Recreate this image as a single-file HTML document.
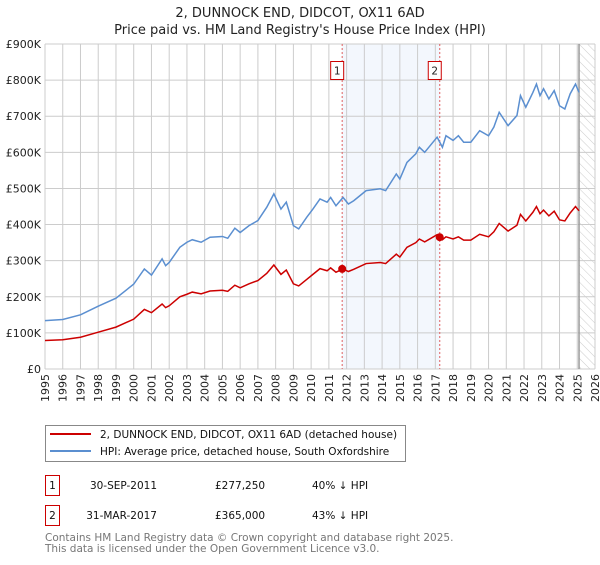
<!DOCTYPE html>
<html><head><meta charset="utf-8"><style>
body{margin:0;background:#fff;font-family:"Liberation Sans","DejaVu Sans",sans-serif}
svg text{font-family:"DejaVu Sans","Liberation Sans",sans-serif}
</style></head><body>
<svg id="c" width="600" height="560" viewBox="0 0 600 560" xmlns="http://www.w3.org/2000/svg">
<defs><pattern id="hatch" width="6" height="6" patternUnits="userSpaceOnUse" patternTransform="rotate(-45)"><line x1="0" y1="0" x2="0" y2="6" stroke="#ccc" stroke-width="1"/></pattern></defs>
<text x="300" y="17" font-size="13" text-anchor="middle" fill="#222">2, DUNNOCK END, DIDCOT, OX11 6AD</text>
<text x="300" y="34" font-size="13" text-anchor="middle" fill="#222">Price paid vs. HM Land Registry's House Price Index (HPI)</text>
<g id="grid"></g><g id="marks"></g>
<rect x="45.5" y="425.5" width="360" height="36" fill="#fff" stroke="#888"/>
<line x1="50" y1="434" x2="91" y2="434" stroke="#cc0000" stroke-width="2"/>
<text x="100" y="438" font-size="10.5" fill="#111">2, DUNNOCK END, DIDCOT, OX11 6AD (detached house)</text>
<line x1="50" y1="451" x2="91" y2="451" stroke="#5b8fd0" stroke-width="2"/>
<text x="100" y="455" font-size="10.5" fill="#111">HPI: Average price, detached house, South Oxfordshire</text>
<g font-size="10.5" fill="#111">
<rect x="45.5" y="475.5" width="14" height="20" fill="#fff" stroke="#cc0000"/><text x="52.5" y="489" text-anchor="middle">1</text>
<text x="157" y="489" text-anchor="end">30-SEP-2011</text><text x="215" y="489">£277,250</text><text x="312" y="489">40% ↓ HPI</text></g>
<g font-size="10.5" fill="#111">
<rect x="45.5" y="505.5" width="14" height="20" fill="#fff" stroke="#cc0000"/><text x="52.5" y="519" text-anchor="middle">2</text>
<text x="157" y="519" text-anchor="end">31-MAR-2017</text><text x="215" y="519">£365,000</text><text x="312" y="519">43% ↓ HPI</text></g>
<text x="45" y="541" font-size="10.5" fill="#777">Contains HM Land Registry data © Crown copyright and database right 2025.</text>
<text x="45" y="552" font-size="10.5" fill="#777">This data is licensed under the Open Government Licence v3.0.</text>
</svg>
<script>
const years=[1995.0,1996.0,1997.0,1998.0,1999.0,2000.0,2000.6,2001.0,2001.6,2001.8,2002.0,2002.6,2003.0,2003.3,2003.8,2004.3,2005.0,2005.3,2005.7,2006.0,2006.5,2007.0,2007.5,2007.9,2008.3,2008.6,2009.0,2009.3,2009.75,2010.1,2010.5,2010.9,2011.1,2011.4,2011.8,2012.1,2012.4,2013.1,2013.9,2014.2,2014.8,2015.0,2015.4,2015.9,2016.1,2016.4,2017.1,2017.4,2017.6,2018.0,2018.3,2018.6,2019.0,2019.5,2020.0,2020.3,2020.6,2021.1,2021.6,2021.8,2022.1,2022.5,2022.7,2022.9,2023.1,2023.4,2023.7,2024.0,2024.3,2024.6,2024.9,2025.1];
const hpi=[134,137,150,174,196,235,277,260,305,286,295,337,351,358,351,365,367,362,390,378,397,411,448,485,443,462,397,388,420,443,471,462,475,452,475,457,466,494,499,494,540,526,572,596,614,600,642,614,646,633,646,628,628,660,646,670,711,674,702,757,725,766,789,757,776,748,771,729,720,762,789,766];
const price=[79,81,88,102,116,138,165,156,180,170,175,200,207,213,208,216,218,215,232,225,236,245,265,288,262,274,236,230,248,262,278,272,280,268,277,270,276,292,295,292,318,310,337,350,360,352,372,358,366,360,366,357,357,373,366,380,403,382,398,428,410,434,450,430,440,424,437,413,410,432,450,438];
const saleYears=[2011.75,2017.25];
const salePrices=[277.25,365];
const saleLabels=["1","2"];
const yTicks=[0,100,200,300,400,500,600,700,800,900];
const yTickLabels=["£0","£100K","£200K","£300K","£400K","£500K","£600K","£700K","£800K","£900K"];
const xTicks=[1995,1996,1997,1998,1999,2000,2001,2002,2003,2004,2005,2006,2007,2008,2009,2010,2011,2012,2013,2014,2015,2016,2017,2018,2019,2020,2021,2022,2023,2024,2025,2026];
const X0=45,X1=595,Y0=369,Y1=44;
const xs=y=>X0+(y-1995)/(2026-1995)*(X1-X0);
const ys=v=>Y0-v/900*(Y0-Y1);
const NS="http://www.w3.org/2000/svg";
function mk(p,t,a){const e=document.createElementNS(NS,t);for(const k in a)e.setAttribute(k,a[k]);p.appendChild(e);return e;}
const g=document.getElementById('grid'),m=document.getElementById('marks');
let sh=mk(g,'rect',{x:xs(saleYears[0]),y:Y1,width:xs(saleYears[1])-xs(saleYears[0]),height:Y0-Y1,fill:'#eef3fc',opacity:0.7});


let ht=mk(g,'rect',{x:xs(2025.1),y:Y1,width:X1-xs(2025.1),height:Y0-Y1,fill:'url(#hatch)'});


yTicks.forEach((v,i)=>{
 mk(g,'line',{x1:X0,x2:X1,y1:ys(v),y2:ys(v),stroke:'#ccc'});
 const t=mk(g,'text',{x:X0-4,y:ys(v)+4,'font-size':11,'text-anchor':'end',fill:'#222'});t.textContent=yTickLabels[i];
 
 
});
xTicks.forEach(y=>{
 mk(g,'line',{x1:xs(y),x2:xs(y),y1:Y1,y2:Y0,stroke:'#ccc'});
 const t=mk(g,'text',{x:0,y:0,'font-size':11,'text-anchor':'end',fill:'#222',transform:`translate(${xs(y)+4},${Y0+5}) rotate(-90)`});t.textContent=y;
 
 
});
let vl=mk(g,'line',{x1:xs(2025.1),x2:xs(2025.1),y1:Y1,y2:Y0,stroke:'#999','stroke-width':1.5});


saleYears.forEach((y,i)=>{
 const l=mk(g,'line',{x1:xs(y),x2:xs(y),y1:Y1,y2:Y0,stroke:'#e06060','stroke-dasharray':'2,2'});
 
 
 const b=mk(g,'rect',{x:xs(y)-11.5,y:61.5,width:13,height:18,fill:'#fff',stroke:'#cc0000'});
 
 
 const t=mk(g,'text',{x:xs(y)-5,y:74.5,'font-size':10.5,'text-anchor':'middle',fill:'#222'});t.textContent=saleLabels[i];
});
const hp=mk(m,'polyline',{points:years.map((y,i)=>xs(y)+','+ys(hpi[i])).join(' '),fill:'none',stroke:'#5b8fd0','stroke-width':1.5});


const pp=mk(m,'polyline',{points:years.map((y,i)=>xs(y)+','+ys(price[i])).join(' '),fill:'none',stroke:'#cc0000','stroke-width':1.5});


saleYears.forEach((y,i)=>{
 const c=mk(m,'circle',{cx:xs(y),cy:ys(salePrices[i]),r:4,fill:'#cc0000'});
 
 
});
</script>
</body></html>
